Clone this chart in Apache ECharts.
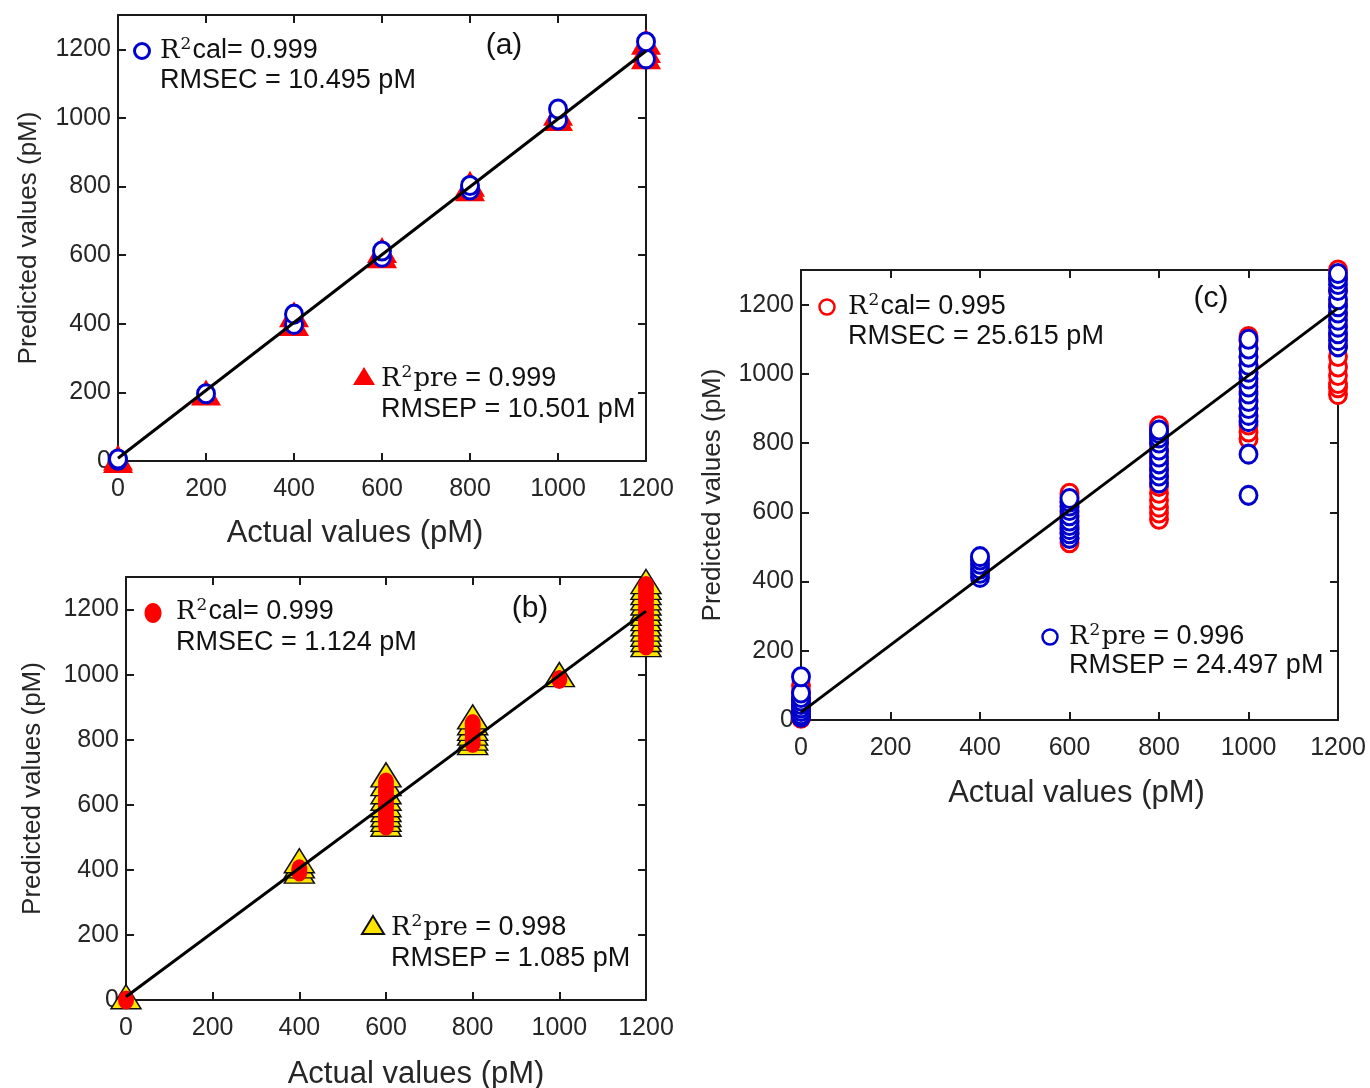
<!DOCTYPE html>
<html>
<head>
<meta charset="utf-8">
<script src="https://cdn.jsdelivr.net/npm/echarts@6/dist/echarts.min.js"></script>
<style>
html,body{margin:0;padding:0;background:#fff;}
#chart{width:1370px;height:1088px;}
</style>
</head>
<body>
<div id="chart"></div>
<script>
// ---------- data ----------
const xTicks = [0, 200, 400, 600, 800, 1000, 1200];

// Panel (a): calibration (blue open circles), prediction (red triangles)
const aCalX = [0, 0, 200, 400, 400, 600, 600, 800, 800, 1000, 1000, 1200, 1200];
const aCalY = [2, 6, 196, 398, 428, 594, 612, 790, 803, 994, 1026, 1172, 1222];
const aPreX = [0, 0, 200, 400, 400, 600, 600, 800, 800, 1000, 1000, 1200, 1200, 1200];
const aPreY = [3, 10, 200, 402, 428, 600, 615, 795, 808, 1000, 1015, 1180, 1198, 1222];
const aFitX = [0, 1200];
const aFitY = [8, 1195];

// Panel (b): calibration (red filled circles), prediction (yellow triangles)
const bCalX = [0, 400, 400, 600, 600, 600, 600, 600, 600, 600, 600, 600, 600, 800, 800, 800, 800, 800, 800, 1000,
  1200, 1200, 1200, 1200, 1200, 1200, 1200, 1200, 1200, 1200, 1200, 1200, 1200, 1200];
const bCalY = [0, 393, 403, 535, 550, 565, 580, 595, 610, 625, 640, 655, 670, 788, 800, 815, 830, 842, 850, 985,
  1088, 1102, 1116, 1130, 1144, 1158, 1172, 1186, 1200, 1214, 1228, 1242, 1258, 1274];
const bPreX = [0, 400, 400, 400, 600, 600, 600, 600, 600, 600, 600, 600, 600, 800, 800, 800, 800, 800, 800, 1000,
  1200, 1200, 1200, 1200, 1200, 1200, 1200, 1200, 1200, 1200, 1200, 1200, 1200];
const bPreY = [10, 396, 412, 428, 540, 555, 570, 585, 600, 620, 640, 665, 692, 791, 805, 820, 835, 852, 870, 1000,
  1092, 1108, 1124, 1140, 1156, 1172, 1188, 1204, 1220, 1236, 1252, 1268, 1286];
const bFitX = [0, 1200];
const bFitY = [10, 1195];

// Panel (c): calibration (red open circles), prediction (blue open circles)
const cCalX = [0, 0, 0, 0, 0, 0, 0,
  600, 600, 600, 600, 600, 600, 600, 600, 600, 600, 600,
  800, 800, 800, 800, 800, 800, 800, 800, 800, 800, 800, 800, 800, 800,
  1000, 1000, 1000, 1000, 1000, 1000, 1000, 1000, 1000, 1000, 1000, 1000, 1000, 1000,
  1200, 1200, 1200, 1200, 1200, 1200, 1200, 1200, 1200, 1200, 1200, 1200, 1200, 1200];
const cCalY = [5, 15, 30, 45, 60, 80, 100,
  512, 525, 540, 555, 570, 585, 600, 615, 630, 645, 655,
  580, 598, 615, 635, 655, 675, 700, 725, 750, 775, 800, 822, 840, 850,
  812, 832, 852, 875, 900, 925, 950, 975, 1000, 1025, 1050, 1075, 1095, 1108,
  940, 960, 972, 995, 1020, 1050, 1080, 1110, 1140, 1170, 1200, 1240, 1275, 1300];
const cPreX = [0, 0, 0, 0, 0, 0, 0, 0, 0,
  400, 400, 400, 400, 400, 400,
  600, 600, 600, 600, 600, 600, 600, 600, 600, 600,
  800, 800, 800, 800, 800, 800, 800, 800, 800, 800,
  1000, 1000, 1000, 1000, 1000, 1000, 1000, 1000, 1000, 1000, 1000, 1000, 1000, 1000,
  1200, 1200, 1200, 1200, 1200, 1200, 1200, 1200, 1200, 1200, 1200, 1200];
const cPreY = [8, 15, 25, 35, 45, 55, 65, 78, 125,
  412, 424, 436, 450, 462, 472,
  525, 538, 550, 562, 575, 590, 605, 618, 630, 640,
  685, 705, 722, 740, 760, 780, 800, 815, 828, 838,
  649, 768, 862, 880, 900, 920, 942, 962, 985, 1005, 1025, 1048, 1072, 1100,
  1078, 1096, 1116, 1135, 1155, 1176, 1194, 1214, 1241, 1258, 1274, 1290];
const cFitX = [0, 1200];
const cFitY = [22, 1190];

// ---------- helpers ----------
const pairs = (xs, ys) => xs.map((x, i) => [x, ys[i]]);
const SANS = '"Liberation Sans", Arial, sans-serif';
const SERIF = '"DejaVu Serif", "Liberation Serif", serif';
const AX = '#1a1a1a';
const TXT = '#262626';
const plain = v => String(v);

const grids = [
  {left: 118, top: 15, width: 528, height: 446, containLabel: false, outerBoundsMode: 'none'},
  {left: 126, top: 577, width: 520, height: 423, containLabel: false, outerBoundsMode: 'none'},
  {left: 801, top: 270, width: 537, height: 450, containLabel: false, outerBoundsMode: 'none'}
];
const xNameGap = [57, 59, 58];
const xNamePad = [[0, 54, 0, 0], [0, 0, 0, 60], [0, 0, 0, 14]];
const yNameGap = [76, 80, 75];

const xAxis = [], yAxis = [];
grids.forEach((g, i) => {
  const tick = {inside: true, length: 8, lineStyle: {color: AX, width: 2}};
  const line = {show: true, onZero: false, lineStyle: {color: AX, width: 2}};
  xAxis.push({
    gridIndex: i, type: 'value', min: 0, max: 1200, interval: 200, position: 'bottom',
    axisLine: line, axisTick: tick, splitLine: {show: false},
    axisLabel: {fontSize: 25, color: TXT, fontFamily: SANS, margin: 16, formatter: plain},
    name: 'Actual values (pM)', nameLocation: 'middle', nameGap: xNameGap[i],
    nameTextStyle: {fontSize: 31, color: TXT, fontFamily: SANS, padding: xNamePad[i]}
  });
  xAxis.push({
    gridIndex: i, type: 'value', min: 0, max: 1200, interval: 200, position: 'top',
    axisLine: line, axisTick: tick, splitLine: {show: false}, axisLabel: {show: false}
  });
  yAxis.push({
    gridIndex: i, type: 'value', min: 0, max: 1300, interval: 200, position: 'left',
    axisLine: line, axisTick: tick, splitLine: {show: false},
    axisLabel: {fontSize: 25, color: TXT, fontFamily: SANS, margin: 7, showMaxLabel: false, formatter: plain},
    name: 'Predicted values (pM)', nameLocation: 'middle', nameGap: yNameGap[i],
    nameTextStyle: {fontSize: 26, color: TXT, fontFamily: SANS}
  });
  yAxis.push({
    gridIndex: i, type: 'value', min: 0, max: 1300, interval: 200, position: 'right',
    axisLine: line, axisTick: tick, splitLine: {show: false}, axisLabel: {show: false}
  });
});

const openCircle = (color) => ({color: '#ffffff', borderColor: color, borderWidth: 3, opacity: 1});
const scatter = (gi, data, symbol, size, itemStyle, z) => ({
  type: 'scatter', xAxisIndex: gi * 2, yAxisIndex: gi * 2, data, symbol, symbolSize: size,
  itemStyle: Object.assign({opacity: 1}, itemStyle), clip: false, z, silent: true
});
const fit = (gi, xs, ys) => ({
  type: 'line', xAxisIndex: gi * 2, yAxisIndex: gi * 2, data: pairs(xs, ys), symbol: 'none',
  lineStyle: {color: '#000', width: 3}, z: 10, silent: true, clip: false
});

const series = [
  scatter(0, pairs(aPreX, aPreY), 'triangle', [30, 26], {color: '#ff0000'}, 2),
  scatter(0, pairs(aCalX, aCalY), 'circle', [17, 18], openCircle('#0000cc'), 3),
  fit(0, aFitX, aFitY),
  scatter(1, pairs(bPreX, bPreY), 'triangle', [30, 24], {color: '#ffe500', borderColor: '#111', borderWidth: 1.5}, 2),
  scatter(1, pairs(bCalX, bCalY), 'circle', [16, 19], {color: '#ff0000'}, 3),
  fit(1, bFitX, bFitY),
  scatter(2, pairs(cCalX, cCalY), 'circle', [17, 18], openCircle('#ff0000'), 2),
  scatter(2, pairs(cPreX, cPreY), 'circle', [17, 18], openCircle('#0000cc'), 3),
  fit(2, cFitX, cFitY)
];

// ---------- annotations ----------
const rich = {
  s: {fontFamily: SERIF, fontSize: 26, fill: '#111', color: '#111'},
  sup: {fontFamily: SERIF, fontSize: 17, fill: '#111', color: '#111', padding: [0, 1, 12, 1]},
  n: {fontFamily: SANS, fontSize: 27, fill: '#111', color: '#111'}
};
function line1(x, y, serifPart, sansPart) {
  return {type: 'text', x: x, y: y, z: 100,
    style: {text: '{s|R}{sup|2}' + (serifPart ? '{s|' + serifPart + '}' : '') + '{n|' + sansPart + '}', rich, fill: '#111',
      font: '27px ' + SANS, verticalAlign: 'middle', align: 'left'}};
}
function line2(x, y, t) {
  return {type: 'text', x: x, y: y, z: 100,
    style: {text: t, fill: '#111', font: '27px ' + SANS, verticalAlign: 'middle', align: 'left'}};
}
function panelLabel(cx, cy, t) {
  return {type: 'text', x: cx, y: cy, z: 100,
    style: {text: t, fill: '#111', font: '30px ' + SANS, verticalAlign: 'middle', align: 'center'}};
}
const graphic = [
  // (a)
  {type: 'circle', shape: {cx: 142, cy: 51, r: 7.5}, style: {fill: '#fff', stroke: '#0000cc', lineWidth: 3}, z: 100},
  line1(160, 51, '', 'cal= 0.999'), line2(160, 81, 'RMSEC = 10.495 pM'),
  panelLabel(504, 46, '(a)'),
  {type: 'polygon', shape: {points: [[364, 367], [375, 385], [353, 385]]}, style: {fill: '#ff0000'}, z: 100},
  line1(381, 379, 'pre', ' = 0.999'), line2(381, 410, 'RMSEP = 10.501 pM'),
  // (b)
  {type: 'ellipse', shape: {cx: 153, cy: 613, rx: 8.5, ry: 10}, style: {fill: '#ff0000'}, z: 100},
  line1(176, 612, '', 'cal= 0.999'), line2(176, 643, 'RMSEC = 1.124 pM'),
  panelLabel(530, 609, '(b)'),
  {type: 'polygon', shape: {points: [[373, 916], [384, 934], [362, 934]]}, style: {fill: '#ffe500', stroke: '#111', lineWidth: 2}, z: 100},
  line1(391, 928, 'pre', ' = 0.998'), line2(391, 959, 'RMSEP = 1.085 pM'),
  // (c)
  {type: 'circle', shape: {cx: 827, cy: 307, r: 7.5}, style: {fill: '#fff', stroke: '#ff0000', lineWidth: 2.5}, z: 100},
  line1(848, 307, '', 'cal= 0.995'), line2(848, 337, 'RMSEC = 25.615 pM'),
  panelLabel(1211, 299, '(c)'),
  {type: 'circle', shape: {cx: 1050, cy: 637, r: 7.5}, style: {fill: '#fff', stroke: '#0000cc', lineWidth: 2.5}, z: 100},
  line1(1069, 637, 'pre', ' = 0.996'), line2(1069, 666, 'RMSEP = 24.497 pM')
];

const chart = echarts.init(document.getElementById('chart'), null, {renderer: 'canvas'});
chart.setOption({
  backgroundColor: '#ffffff',
  animation: false,
  grid: grids,
  xAxis, yAxis, series, graphic
});
</script>
</body>
</html>
